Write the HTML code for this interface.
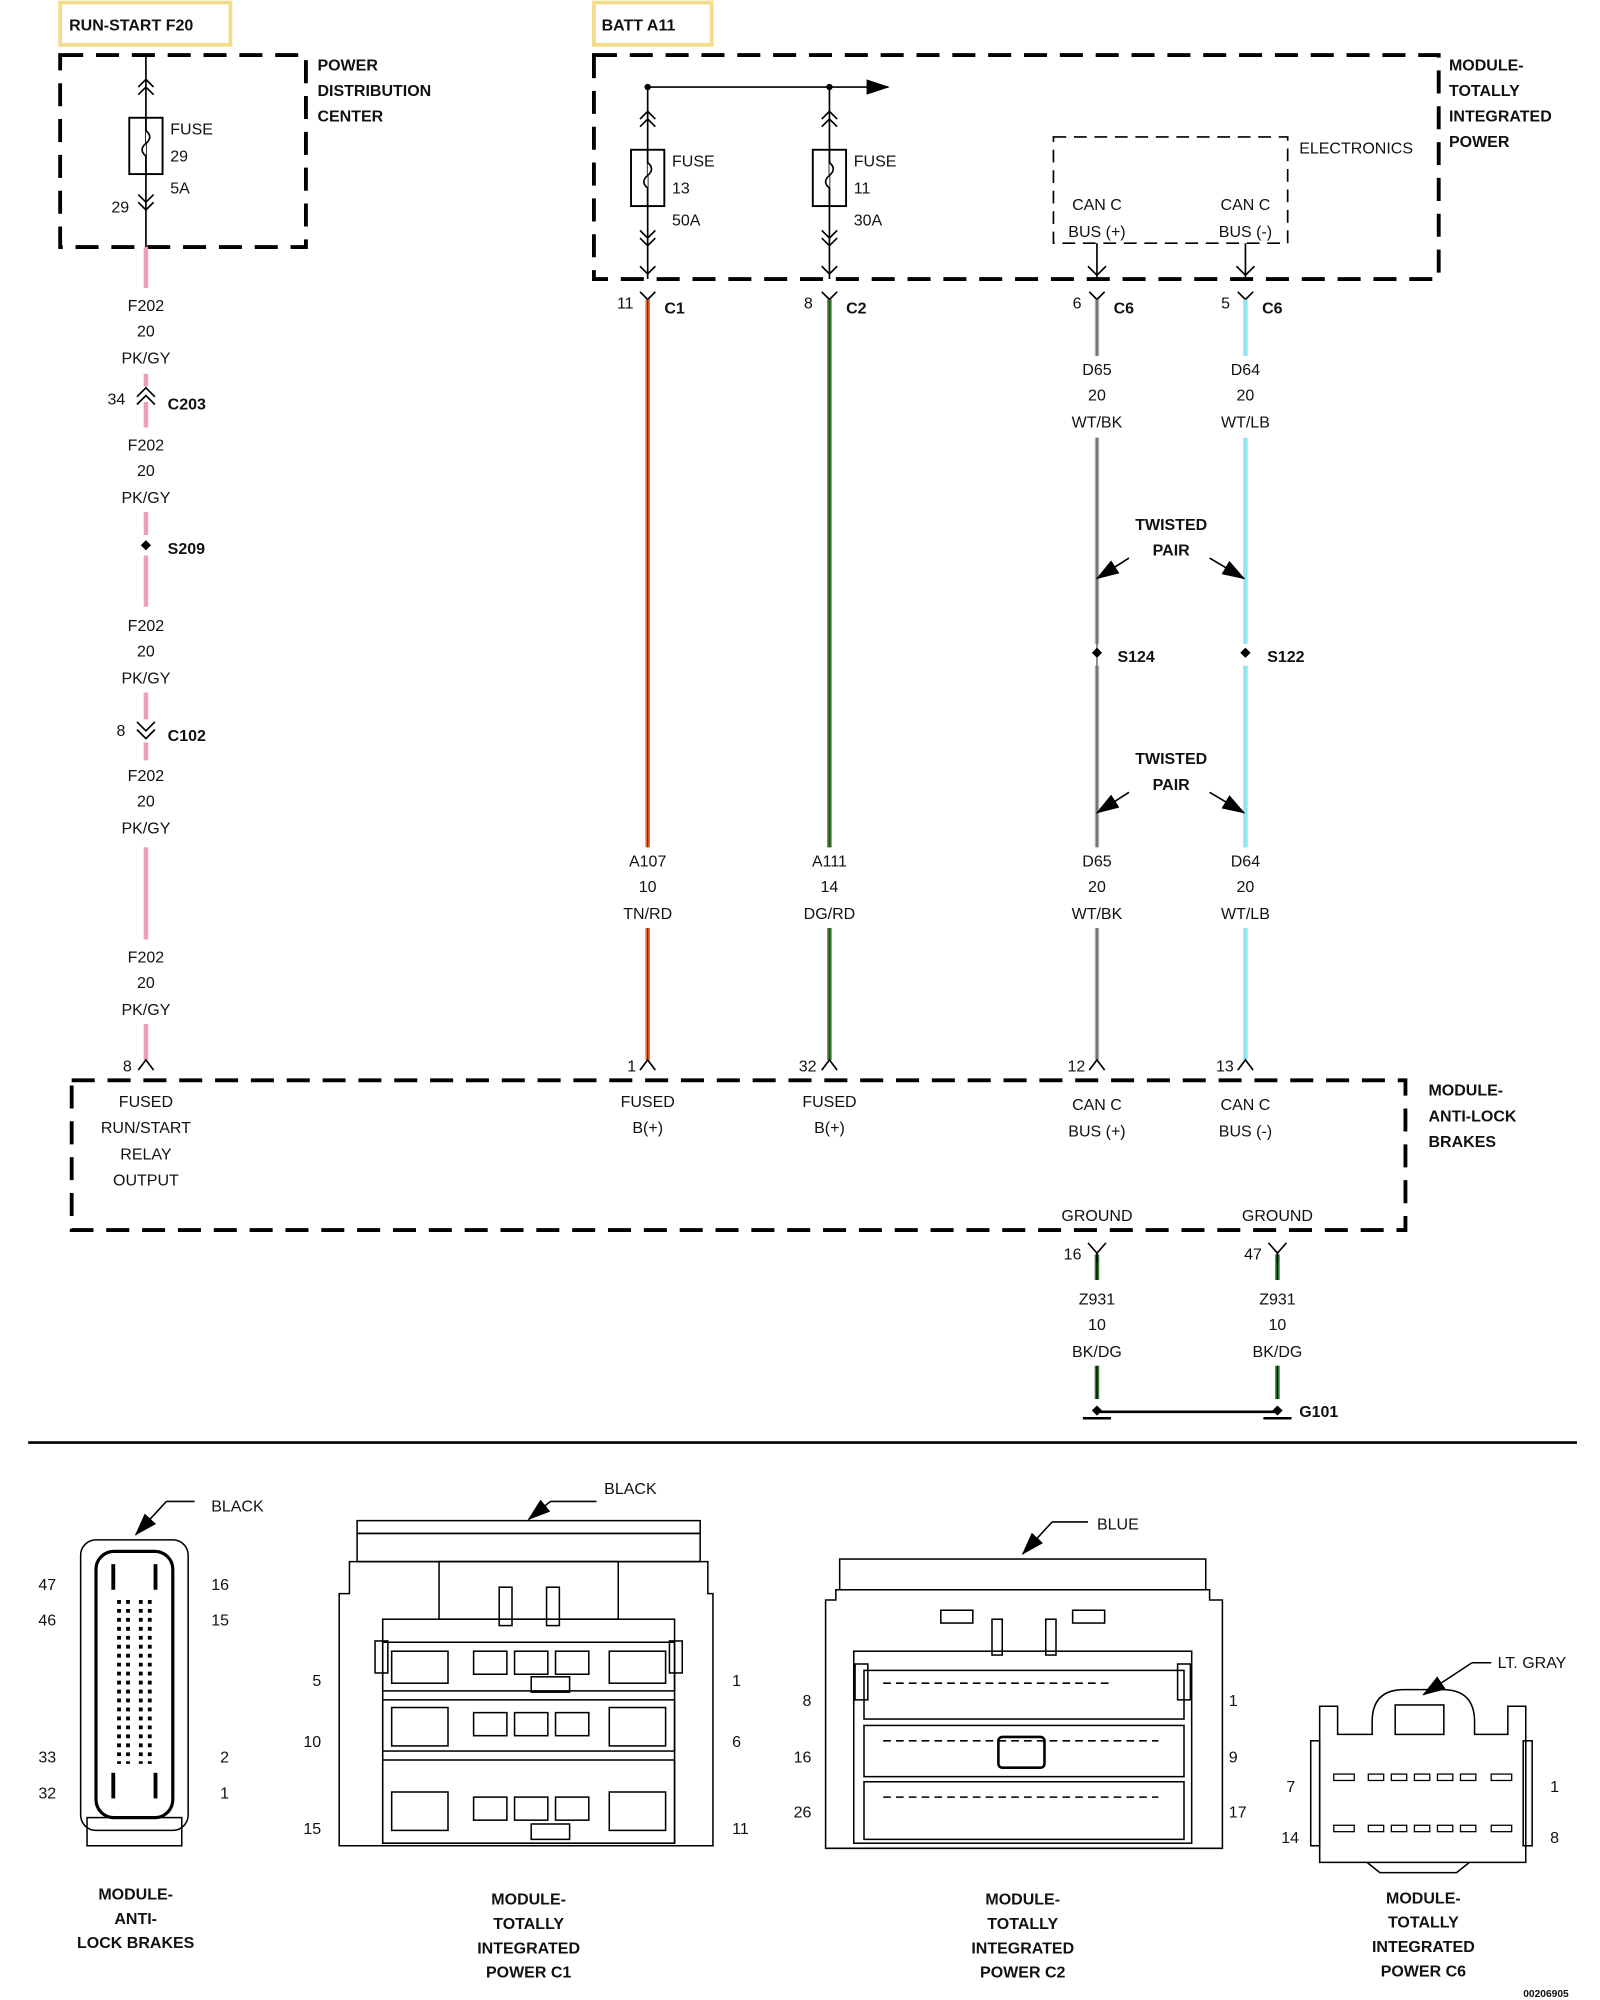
<!DOCTYPE html>
<html><head><meta charset="utf-8"><style>
html,body{margin:0;padding:0;background:#fff;}
svg{display:block;}
text{font-family:"Liberation Sans",Arial,sans-serif;font-size:12.5px;fill:#111;}
.b{font-weight:bold;}
.c{text-anchor:middle;}
</style></head><body>
<svg width="1600" height="2000" viewBox="0 0 1250 1562.5" xmlns="http://www.w3.org/2000/svg">
<defs>
<marker id="ah" markerWidth="10" markerHeight="10" refX="9" refY="5" orient="auto" markerUnits="userSpaceOnUse"><path d="M0,0 L10,5 L0,10 z" fill="#000"/></marker>
<marker id="ah2" markerWidth="18" markerHeight="12" refX="17" refY="6" orient="auto" markerUnits="userSpaceOnUse"><path d="M0,0 L18,6 L0,12 z" fill="#000"/></marker>
</defs>
<g fill="none" stroke="#000" stroke-width="1.3">
<!-- yellow boxes -->
<rect x="47" y="2" width="133" height="33" stroke="#f3dc8a" stroke-width="3"/>
<rect x="464" y="2" width="92" height="33" stroke="#f3dc8a" stroke-width="3"/>
<!-- dashed boxes -->
<g stroke-width="3" stroke-dasharray="18,10">
<rect x="47" y="43" width="192" height="150"/>
<rect x="464" y="43" width="660" height="175"/>
<rect x="56" y="844" width="1042" height="117"/>
</g>
<rect x="823" y="107" width="183" height="83" stroke-dasharray="10,6"/>
<!-- PDC fuse -->
<line x1="114" y1="43" x2="114" y2="193"/>
<polyline points="108,68 114,62 120,68"/><polyline points="108,74 114,68 120,74"/>
<rect x="101" y="92" width="26" height="44" stroke-width="1.5"/>
<path d="M114,92 v10 q6,5 0,10 q-6,5 0,10 v14" fill="#fff"/>
<polyline points="108,152 114,158 120,152"/><polyline points="108,158 114,164 120,158"/>
<!-- MTIP bus -->
<line x1="506" y1="68" x2="694" y2="68" marker-end="url(#ah2)"/>
<line x1="506" y1="68" x2="506" y2="218"/><line x1="648" y1="68" x2="648" y2="218"/>
<g>
<polyline points="500,93 506,87 512,93"/><polyline points="500,99 506,93 512,99"/>
<rect x="493" y="117" width="26" height="44" stroke-width="1.5"/>
<path d="M506,117 v10 q6,5 0,10 q-6,5 0,10 v14" fill="#fff"/>
<polyline points="500,180 506,186 512,180"/><polyline points="500,186 506,192 512,186"/>
<polyline points="500,208 506,214 512,208"/>
</g>
<g>
<polyline points="642,93 648,87 654,93"/><polyline points="642,99 648,93 654,99"/>
<rect x="635" y="117" width="26" height="44" stroke-width="1.5"/>
<path d="M648,117 v10 q6,5 0,10 q-6,5 0,10 v14" fill="#fff"/>
<polyline points="642,180 648,186 654,180"/><polyline points="642,186 648,192 654,186"/>
<polyline points="642,208 648,214 654,208"/>
</g>
<line x1="857" y1="190" x2="857" y2="218"/><polyline points="850,208 857,215 864,208"/>
<line x1="973" y1="190" x2="973" y2="218"/><polyline points="966,208 973,215 980,208"/>
<!-- connector marks below MTIP -->
<polyline points="500,228 506,234 512,228"/><polyline points="642,228 648,234 654,228"/>
<polyline points="851,228 857,234 863,228"/><polyline points="967,228 973,234 979,228"/>
</g>
<circle cx="506" cy="68" r="2.5"/><circle cx="648" cy="68" r="2.5"/>
<!-- wires -->
<g stroke-width="3.5" fill="none">
<g stroke="#ec9fb5">
<line x1="114" y1="193" x2="114" y2="225"/>
<line x1="114" y1="292" x2="114" y2="302"/>
<line x1="114" y1="314" x2="114" y2="334"/>
<line x1="114" y1="400" x2="114" y2="418"/>
<line x1="114" y1="434" x2="114" y2="474"/>
<line x1="114" y1="541" x2="114" y2="562"/>
<line x1="114" y1="580" x2="114" y2="594"/>
<line x1="114" y1="662" x2="114" y2="734"/>
<line x1="114" y1="800" x2="114" y2="828"/>
</g>
<g stroke="#d9703a"><line x1="506" y1="234" x2="506" y2="662"/><line x1="506" y1="725" x2="506" y2="828"/></g>
<g stroke="#2d8a3a"><line x1="648" y1="234" x2="648" y2="662"/><line x1="648" y1="725" x2="648" y2="828"/></g>
<g stroke="#b0b0b0"><line x1="857" y1="234" x2="857" y2="278"/><line x1="857" y1="342" x2="857" y2="503"/><line x1="857" y1="520" x2="857" y2="662"/><line x1="857" y1="725" x2="857" y2="828"/></g>
<g stroke="#8fe6ef"><line x1="973" y1="234" x2="973" y2="278"/><line x1="973" y1="342" x2="973" y2="503"/><line x1="973" y1="520" x2="973" y2="662"/><line x1="973" y1="725" x2="973" y2="828"/></g>
<g stroke="#2f7a35"><line x1="857" y1="980" x2="857" y2="1000"/><line x1="857" y1="1067" x2="857" y2="1093"/><line x1="998" y1="980" x2="998" y2="1000"/><line x1="998" y1="1067" x2="998" y2="1093"/></g>
</g>
<g stroke-width="1" fill="none">
<line x1="506" y1="234" x2="506" y2="662" stroke="#c00"/><line x1="506" y1="725" x2="506" y2="828" stroke="#c00"/>
<line x1="648" y1="234" x2="648" y2="662" stroke="#c00"/><line x1="648" y1="725" x2="648" y2="828" stroke="#c00"/>
<line x1="857" y1="234" x2="857" y2="278" stroke="#555"/><line x1="857" y1="342" x2="857" y2="662" stroke="#555"/><line x1="857" y1="725" x2="857" y2="828" stroke="#555"/>
<line x1="857" y1="980" x2="857" y2="1000" stroke="#000"/><line x1="857" y1="1067" x2="857" y2="1093" stroke="#000"/>
<line x1="998" y1="980" x2="998" y2="1000" stroke="#000"/><line x1="998" y1="1067" x2="998" y2="1093" stroke="#000"/>
</g>
<g fill="none" stroke="#000" stroke-width="1.3">
<!-- C203 -->
<polyline points="107,310 114,303 121,310"/><polyline points="107,316 114,309 121,316"/>
<!-- C102 -->
<polyline points="107,564 114,571 121,564"/><polyline points="107,570 114,577 121,570"/>
<!-- pins at ABS -->
<polyline points="108,836 114,828 120,836"/><polyline points="500,836 506,828 512,836"/>
<polyline points="642,836 648,828 654,836"/><polyline points="851,836 857,828 863,836"/>
<polyline points="967,836 973,828 979,836"/>
<!-- ground pins -->
<polyline points="850,971 857,979 864,971"/><line x1="857" y1="979" x2="857" y2="986"/>
<polyline points="991,971 998,979 1005,971"/><line x1="998" y1="979" x2="998" y2="986"/>
<!-- twisted pair arrows -->
<line x1="882" y1="436" x2="857" y2="452" marker-end="url(#ah2)"/>
<line x1="945" y1="436" x2="972" y2="452" marker-end="url(#ah2)"/>
<line x1="882" y1="619" x2="857" y2="635" marker-end="url(#ah2)"/>
<line x1="945" y1="619" x2="972" y2="635" marker-end="url(#ah2)"/>
<!-- G101 -->
<line x1="857" y1="1103" x2="998" y2="1103" stroke-width="2"/>
<line x1="846" y1="1108" x2="868" y2="1108" stroke-width="2"/><line x1="987" y1="1108" x2="1009" y2="1108" stroke-width="2"/>
<!-- separator -->
<line x1="22" y1="1127" x2="1232" y2="1127" stroke-width="2"/>
</g>
<g fill="#000">
<path d="M114,422 l4,4 -4,4 -4,-4z"/><path d="M857,506 l4,4 -4,4 -4,-4z"/><path d="M973,506 l4,4 -4,4 -4,-4z"/>
<path d="M857,1098 l4,4 -4,4 -4,-4z"/><path d="M998,1098 l4,4 -4,4 -4,-4z"/>
</g>
<!-- texts -->
<text x="54" y="24" class="b">RUN-START F20</text>
<text x="470" y="24" class="b">BATT A11</text>
<text x="248" y="55" class="b">POWER</text><text x="248" y="75" class="b">DISTRIBUTION</text><text x="248" y="95" class="b">CENTER</text>
<text x="133" y="105">FUSE</text><text x="133" y="126">29</text><text x="133" y="151">5A</text><text x="87" y="166">29</text>
<text x="1132" y="55" class="b">MODULE-</text><text x="1132" y="75" class="b">TOTALLY</text><text x="1132" y="95" class="b">INTEGRATED</text><text x="1132" y="115" class="b">POWER</text>
<text x="525" y="130">FUSE</text><text x="525" y="151">13</text><text x="525" y="176">50A</text>
<text x="667" y="130">FUSE</text><text x="667" y="151">11</text><text x="667" y="176">30A</text>
<text x="1015" y="120">ELECTRONICS</text>
<text x="857" y="164" class="c">CAN C</text><text x="857" y="185" class="c">BUS (+)</text>
<text x="973" y="164" class="c">CAN C</text><text x="973" y="185" class="c">BUS (-)</text>
<text x="482" y="241">11</text><text x="519" y="245" class="b">C1</text>
<text x="628" y="241">8</text><text x="661" y="245" class="b">C2</text>
<text x="838" y="241">6</text><text x="870" y="245" class="b">C6</text>
<text x="954" y="241">5</text><text x="986" y="245" class="b">C6</text>
<g class="c">
<text x="114" y="243" class="c">F202</text><text x="114" y="263" class="c">20</text><text x="114" y="284" class="c">PK/GY</text>
<text x="114" y="352" class="c">F202</text><text x="114" y="372" class="c">20</text><text x="114" y="393" class="c">PK/GY</text>
<text x="114" y="493" class="c">F202</text><text x="114" y="513" class="c">20</text><text x="114" y="534" class="c">PK/GY</text>
<text x="114" y="610" class="c">F202</text><text x="114" y="630" class="c">20</text><text x="114" y="651" class="c">PK/GY</text>
<text x="114" y="752" class="c">F202</text><text x="114" y="772" class="c">20</text><text x="114" y="793" class="c">PK/GY</text>
<text x="857" y="293" class="c">D65</text><text x="857" y="313" class="c">20</text><text x="857" y="334" class="c">WT/BK</text>
<text x="973" y="293" class="c">D64</text><text x="973" y="313" class="c">20</text><text x="973" y="334" class="c">WT/LB</text>
<text x="506" y="677" class="c">A107</text><text x="506" y="697" class="c">10</text><text x="506" y="718" class="c">TN/RD</text>
<text x="648" y="677" class="c">A111</text><text x="648" y="697" class="c">14</text><text x="648" y="718" class="c">DG/RD</text>
<text x="857" y="677" class="c">D65</text><text x="857" y="697" class="c">20</text><text x="857" y="718" class="c">WT/BK</text>
<text x="973" y="677" class="c">D64</text><text x="973" y="697" class="c">20</text><text x="973" y="718" class="c">WT/LB</text>
<text x="915" y="414" class="c b">TWISTED</text><text x="915" y="434" class="c b">PAIR</text>
<text x="915" y="597" class="c b">TWISTED</text><text x="915" y="617" class="c b">PAIR</text>
<text x="114" y="865" class="c">FUSED</text><text x="114" y="885" class="c">RUN/START</text><text x="114" y="906" class="c">RELAY</text><text x="114" y="926" class="c">OUTPUT</text>
<text x="506" y="865" class="c">FUSED</text><text x="506" y="885" class="c">B(+)</text>
<text x="648" y="865" class="c">FUSED</text><text x="648" y="885" class="c">B(+)</text>
<text x="857" y="867" class="c">CAN C</text><text x="857" y="888" class="c">BUS (+)</text>
<text x="973" y="867" class="c">CAN C</text><text x="973" y="888" class="c">BUS (-)</text>
<text x="857" y="954" class="c">GROUND</text><text x="998" y="954" class="c">GROUND</text>
<text x="857" y="1019" class="c">Z931</text><text x="857" y="1039" class="c">10</text><text x="857" y="1060" class="c">BK/DG</text>
<text x="998" y="1019" class="c">Z931</text><text x="998" y="1039" class="c">10</text><text x="998" y="1060" class="c">BK/DG</text>
</g>
<text x="84" y="316">34</text><text x="131" y="320" class="b">C203</text>
<text x="131" y="433" class="b">S209</text>
<text x="91" y="575">8</text><text x="131" y="579" class="b">C102</text>
<text x="873" y="517" class="b">S124</text><text x="990" y="517" class="b">S122</text>
<text x="96" y="837">8</text><text x="490" y="837">1</text><text x="624" y="837">32</text><text x="834" y="837">12</text><text x="950" y="837">13</text>
<text x="1116" y="856" class="b">MODULE-</text><text x="1116" y="876" class="b">ANTI-LOCK</text><text x="1116" y="896" class="b">BRAKES</text>
<text x="831" y="984">16</text><text x="972" y="984">47</text>
<text x="1015" y="1107" class="b">G101</text>
<!-- ABS connector -->
<g fill="none" stroke="#000" stroke-width="1.2">
<rect x="63" y="1203" width="84" height="227" rx="12"/>
<rect x="75" y="1212" width="60" height="208" rx="14" stroke-width="2.5"/>
<rect x="68" y="1420" width="74" height="22"/>
<line x1="130" y1="1173" x2="152" y2="1173"/><line x1="130" y1="1173" x2="106" y2="1199" marker-end="url(#ah2)"/>
</g>
<g fill="#000">
<rect x="87" y="1222" width="3" height="20"/><rect x="120" y="1222" width="3" height="20"/>
<rect x="87" y="1385" width="3" height="20"/><rect x="120" y="1385" width="3" height="20"/>
</g>
<g stroke="#000" stroke-width="3" stroke-dasharray="3,4">
<line x1="93" y1="1250" x2="93" y2="1378"/><line x1="100" y1="1250" x2="100" y2="1378"/>
<line x1="110" y1="1250" x2="110" y2="1378"/><line x1="117" y1="1250" x2="117" y2="1378"/>
</g>
<text x="30" y="1242">47</text><text x="30" y="1270">46</text><text x="30" y="1377">33</text><text x="30" y="1405">32</text>
<text x="165" y="1242">16</text><text x="165" y="1270">15</text><text x="172" y="1377">2</text><text x="172" y="1405">1</text>
<text x="165" y="1181">BLACK</text>
<text x="106" y="1484" class="c b">MODULE-</text><text x="106" y="1503" class="c b">ANTI-</text><text x="106" y="1522" class="c b">LOCK BRAKES</text>
<!-- C1 -->
<g fill="none" stroke="#000" stroke-width="1.2">
<rect x="279" y="1188" width="268" height="10"/>
<rect x="279" y="1198" width="268" height="22"/>
<path d="M265,1245 h8 v-25 h280 v25 h4 v197 h-292 z"/>
<rect x="299" y="1265" width="228" height="175"/>
<rect x="299" y="1283" width="228" height="38"/><rect x="299" y="1328" width="228" height="40"/><rect x="299" y="1375" width="228" height="65"/>
<rect x="343" y="1220" width="140" height="45"/>
<rect x="390" y="1240" width="10" height="30"/><rect x="427" y="1240" width="10" height="30"/>
<rect x="293" y="1282" width="10" height="25"/><rect x="523" y="1282" width="10" height="25"/>
<g>
<rect x="306" y="1290" width="44" height="25"/><rect x="476" y="1290" width="44" height="25"/>
<rect x="370" y="1290" width="26" height="18"/><rect x="402" y="1290" width="26" height="18"/><rect x="434" y="1290" width="26" height="18"/>
<rect x="306" y="1334" width="44" height="30"/><rect x="476" y="1334" width="44" height="30"/>
<rect x="370" y="1338" width="26" height="18"/><rect x="402" y="1338" width="26" height="18"/><rect x="434" y="1338" width="26" height="18"/>
<rect x="306" y="1400" width="44" height="30"/><rect x="476" y="1400" width="44" height="30"/>
<rect x="370" y="1404" width="26" height="18"/><rect x="402" y="1404" width="26" height="18"/><rect x="434" y="1404" width="26" height="18"/>
<rect x="415" y="1310" width="30" height="12"/><rect x="415" y="1425" width="30" height="12"/>
</g>
<line x1="430" y1="1173" x2="466" y2="1173"/><line x1="430" y1="1173" x2="413" y2="1187" marker-end="url(#ah2)"/>
</g>
<text x="472" y="1167">BLACK</text>
<text x="244" y="1317">5</text><text x="237" y="1365">10</text><text x="237" y="1433">15</text>
<text x="572" y="1317">1</text><text x="572" y="1365">6</text><text x="572" y="1433">11</text>
<g class="c b"><text x="413" y="1488" class="c b">MODULE-</text><text x="413" y="1507" class="c b">TOTALLY</text><text x="413" y="1526" class="c b">INTEGRATED</text><text x="413" y="1545" class="c b">POWER C1</text></g>
<!-- C2 -->
<g fill="none" stroke="#000" stroke-width="1.2">
<rect x="656" y="1218" width="286" height="24"/>
<path d="M645,1250 h8 v-8 h292 v8 h10 v194 h-310 z"/>
<rect x="667" y="1290" width="264" height="150"/>
<rect x="675" y="1305" width="250" height="38"/><rect x="675" y="1348" width="250" height="40"/><rect x="675" y="1392" width="250" height="45"/>
<rect x="735" y="1258" width="25" height="10"/><rect x="838" y="1258" width="25" height="10"/>
<rect x="775" y="1265" width="8" height="28"/><rect x="817" y="1265" width="8" height="28"/>
<rect x="780" y="1357" width="36" height="24" rx="3" stroke-width="2"/>
<rect x="668" y="1300" width="10" height="28"/><rect x="920" y="1300" width="10" height="28"/>
<path d="M690,1315 h180 M690,1360 h215 M690,1404 h215" stroke-dasharray="6,4"/>
<line x1="822" y1="1189" x2="850" y2="1189"/><line x1="822" y1="1189" x2="799" y2="1214" marker-end="url(#ah2)"/>
</g>
<text x="857" y="1195">BLUE</text>
<text x="627" y="1333">8</text><text x="620" y="1377">16</text><text x="620" y="1420">26</text>
<text x="960" y="1333">1</text><text x="960" y="1377">9</text><text x="960" y="1420">17</text>
<text x="799" y="1488" class="c b">MODULE-</text><text x="799" y="1507" class="c b">TOTALLY</text><text x="799" y="1526" class="c b">INTEGRATED</text><text x="799" y="1545" class="c b">POWER C2</text>
<!-- C6 -->
<g fill="none" stroke="#000" stroke-width="1.2">
<path d="M1031,1355 v-22 h14 v22 h27 v-10 q0,-25 25,-25 h30 q25,0 25,25 v10 h26 v-22 h14 v22 v100 h-161 z"/>
<rect x="1024" y="1360" width="7" height="82"/><rect x="1190" y="1360" width="7" height="82"/>
<rect x="1090" y="1332" width="38" height="23"/>
<path d="M1068,1455 l10,8 h60 l10,-8"/>
<line x1="1150" y1="1299" x2="1165" y2="1299"/><line x1="1150" y1="1299" x2="1112" y2="1324" marker-end="url(#ah2)"/>
</g>
<g fill="none" stroke="#000" stroke-width="1">
<rect x="1042" y="1386" width="16" height="5"/><rect x="1069" y="1386" width="12" height="5"/><rect x="1087" y="1386" width="12" height="5"/><rect x="1105" y="1386" width="12" height="5"/><rect x="1123" y="1386" width="12" height="5"/><rect x="1141" y="1386" width="12" height="5"/><rect x="1165" y="1386" width="16" height="5"/>
<rect x="1042" y="1426" width="16" height="5"/><rect x="1069" y="1426" width="12" height="5"/><rect x="1087" y="1426" width="12" height="5"/><rect x="1105" y="1426" width="12" height="5"/><rect x="1123" y="1426" width="12" height="5"/><rect x="1141" y="1426" width="12" height="5"/><rect x="1165" y="1426" width="16" height="5"/>
</g>
<text x="1170" y="1303">LT. GRAY</text>
<text x="1005" y="1400">7</text><text x="1001" y="1440">14</text><text x="1211" y="1400">1</text><text x="1211" y="1440">8</text>
<text x="1112" y="1487" class="c b">MODULE-</text><text x="1112" y="1506" class="c b">TOTALLY</text><text x="1112" y="1525" class="c b">INTEGRATED</text><text x="1112" y="1544" class="c b">POWER C6</text>
<text x="1190" y="1560" class="b" style="font-size:8px">00206905</text>
</svg>
</body></html>
